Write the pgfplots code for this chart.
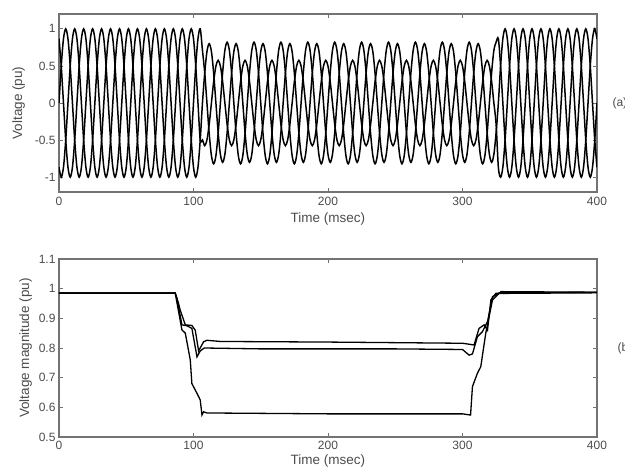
\documentclass[border=0pt]{standalone}
\usepackage{fontspec}
\setmainfont{Liberation Sans}
\usepackage{pgfplots}
\usepackage{pgfplotstable}
\pgfplotsset{compat=1.18}
\pgfplotstableread{
t a b c
0 0 -0.866 0.866
1.667 0.5 -1 0.5
3.333 0.866 -0.866 0
5 1 -0.5 -0.5
6.667 0.866 0 -0.866
8.333 0.5 0.5 -1
10 0 0.866 -0.866
11.667 -0.5 1 -0.5
13.333 -0.866 0.866 0
15 -1 0.5 0.5
16.667 -0.866 0 0.866
18.333 -0.5 -0.5 1
20 0 -0.866 0.866
21.667 0.5 -1 0.5
23.333 0.866 -0.866 0
25 1 -0.5 -0.5
26.667 0.866 0 -0.866
28.333 0.5 0.5 -1
30 0 0.866 -0.866
31.667 -0.5 1 -0.5
33.333 -0.866 0.866 0
35 -1 0.5 0.5
36.667 -0.866 0 0.866
38.333 -0.5 -0.5 1
40 0 -0.866 0.866
41.667 0.5 -1 0.5
43.333 0.866 -0.866 0
45 1 -0.5 -0.5
46.667 0.866 0 -0.866
48.333 0.5 0.5 -1
50 0 0.866 -0.866
51.667 -0.5 1 -0.5
53.333 -0.866 0.866 0
55 -1 0.5 0.5
56.667 -0.866 0 0.866
58.333 -0.5 -0.5 1
60 0 -0.866 0.866
61.667 0.5 -1 0.5
63.333 0.866 -0.866 0
65 1 -0.5 -0.5
66.667 0.866 0 -0.866
68.333 0.5 0.5 -1
70 0 0.866 -0.866
71.667 -0.5 1 -0.5
73.333 -0.866 0.866 0
75 -1 0.5 0.5
76.667 -0.866 0 0.866
78.333 -0.5 -0.5 1
80 0 -0.866 0.866
81.667 0.5 -1 0.5
83.333 0.866 -0.866 0
85 1 -0.5 -0.5
86.667 0.866 0 -0.866
88.333 0.5 0.5 -1
90 0 0.866 -0.866
91.667 -0.5 1 -0.5
93.333 -0.866 0.866 0
95 -1 0.5 0.5
96.667 -0.866 0 0.866
98.333 -0.5 -0.5 1
100 0 -0.866 0.866
101.667 0.5 -1 0.5
103.333 0.866 -0.866 0
105 1 -0.5 -0.5
106.667 0.71 0 -0.498
108.333 0.41 0.4 -0.575
110 0 0.693 -0.498
111.667 -0.41 0.8 -0.288
113.333 -0.71 0.693 0
115 -0.82 0.4 0.288
116.667 -0.71 0 0.498
118.333 -0.41 -0.4 0.575
120 0 -0.693 0.498
121.667 0.41 -0.8 0.288
123.333 0.71 -0.693 0
125 0.82 -0.4 -0.288
126.667 0.71 0 -0.498
128.333 0.41 0.4 -0.575
130 0 0.693 -0.498
131.667 -0.41 0.8 -0.288
133.333 -0.71 0.693 0
135 -0.82 0.4 0.288
136.667 -0.71 0 0.498
138.333 -0.41 -0.4 0.575
140 0 -0.693 0.498
141.667 0.41 -0.8 0.288
143.333 0.71 -0.693 0
145 0.82 -0.4 -0.288
146.667 0.71 0 -0.498
148.333 0.41 0.4 -0.575
150 0 0.693 -0.498
151.667 -0.41 0.8 -0.288
153.333 -0.71 0.693 0
155 -0.82 0.4 0.288
156.667 -0.71 0 0.498
158.333 -0.41 -0.4 0.575
160 0 -0.693 0.498
161.667 0.41 -0.8 0.288
163.333 0.71 -0.693 0
165 0.82 -0.4 -0.288
166.667 0.71 0 -0.498
168.333 0.41 0.4 -0.575
170 0 0.693 -0.498
171.667 -0.41 0.8 -0.288
173.333 -0.71 0.693 0
175 -0.82 0.4 0.288
176.667 -0.71 0 0.498
178.333 -0.41 -0.4 0.575
180 0 -0.693 0.498
181.667 0.41 -0.8 0.288
183.333 0.71 -0.693 0
185 0.82 -0.4 -0.288
186.667 0.71 0 -0.498
188.333 0.41 0.4 -0.575
190 0 0.693 -0.498
191.667 -0.41 0.8 -0.288
193.333 -0.71 0.693 0
195 -0.82 0.4 0.288
196.667 -0.71 0 0.498
198.333 -0.41 -0.4 0.575
200 0 -0.693 0.498
201.667 0.41 -0.8 0.288
203.333 0.71 -0.693 0
205 0.82 -0.4 -0.288
206.667 0.71 0 -0.498
208.333 0.41 0.4 -0.575
210 0 0.693 -0.498
211.667 -0.41 0.8 -0.288
213.333 -0.71 0.693 0
215 -0.82 0.4 0.288
216.667 -0.71 0 0.498
218.333 -0.41 -0.4 0.575
220 0 -0.693 0.498
221.667 0.41 -0.8 0.288
223.333 0.71 -0.693 0
225 0.82 -0.4 -0.288
226.667 0.71 0 -0.498
228.333 0.41 0.4 -0.575
230 0 0.693 -0.498
231.667 -0.41 0.8 -0.288
233.333 -0.71 0.693 0
235 -0.82 0.4 0.288
236.667 -0.71 0 0.498
238.333 -0.41 -0.4 0.575
240 0 -0.693 0.498
241.667 0.41 -0.8 0.288
243.333 0.71 -0.693 0
245 0.82 -0.4 -0.288
246.667 0.71 0 -0.498
248.333 0.41 0.4 -0.575
250 0 0.693 -0.498
251.667 -0.41 0.8 -0.288
253.333 -0.71 0.693 0
255 -0.82 0.4 0.288
256.667 -0.71 0 0.498
258.333 -0.41 -0.4 0.575
260 0 -0.693 0.498
261.667 0.41 -0.8 0.288
263.333 0.71 -0.693 0
265 0.82 -0.4 -0.288
266.667 0.71 0 -0.498
268.333 0.41 0.4 -0.575
270 0 0.693 -0.498
271.667 -0.41 0.8 -0.288
273.333 -0.71 0.693 0
275 -0.82 0.4 0.288
276.667 -0.71 0 0.498
278.333 -0.41 -0.4 0.575
280 0 -0.693 0.498
281.667 0.41 -0.8 0.288
283.333 0.71 -0.693 0
285 0.82 -0.4 -0.288
286.667 0.71 0 -0.498
288.333 0.41 0.4 -0.575
290 0 0.693 -0.498
291.667 -0.41 0.8 -0.288
293.333 -0.71 0.693 0
295 -0.82 0.4 0.288
296.667 -0.71 0 0.498
298.333 -0.41 -0.4 0.575
300 0 -0.693 0.498
301.667 0.41 -0.8 0.288
303.333 0.71 -0.693 0
305 0.82 -0.4 -0.288
306.667 0.71 0 -0.498
308.333 0.41 0.4 -0.575
310 0 0.693 -0.498
311.667 -0.41 0.8 -0.288
313.333 -0.71 0.693 0
315 -0.82 0.4 0.288
316.667 -0.71 0 0.498
318.333 -0.41 -0.4 0.575
320 0 -0.693 0.498
321.667 0.41 -0.8 0.288
323.333 0.71 -0.693 0
325 0.82 -0.4 -0.288
326.667 0.866 0 -0.866
328.333 0.5 0.5 -1
330 0 0.866 -0.866
331.667 -0.5 1 -0.5
333.333 -0.866 0.866 0
335 -1 0.5 0.5
336.667 -0.866 0 0.866
338.333 -0.5 -0.5 1
340 0 -0.866 0.866
341.667 0.5 -1 0.5
343.333 0.866 -0.866 0
345 1 -0.5 -0.5
346.667 0.866 0 -0.866
348.333 0.5 0.5 -1
350 0 0.866 -0.866
351.667 -0.5 1 -0.5
353.333 -0.866 0.866 0
355 -1 0.5 0.5
356.667 -0.866 0 0.866
358.333 -0.5 -0.5 1
360 0 -0.866 0.866
361.667 0.5 -1 0.5
363.333 0.866 -0.866 0
365 1 -0.5 -0.5
366.667 0.866 0 -0.866
368.333 0.5 0.5 -1
370 0 0.866 -0.866
371.667 -0.5 1 -0.5
373.333 -0.866 0.866 0
375 -1 0.5 0.5
376.667 -0.866 0 0.866
378.333 -0.5 -0.5 1
380 0 -0.866 0.866
381.667 0.5 -1 0.5
383.333 0.866 -0.866 0
385 1 -0.5 -0.5
386.667 0.866 0 -0.866
388.333 0.5 0.5 -1
390 0 0.866 -0.866
391.667 -0.5 1 -0.5
393.333 -0.866 0.866 0
395 -1 0.5 0.5
396.667 -0.866 0 0.866
398.333 -0.5 -0.5 1
400 0 -0.866 0.866
}\wave
\pgfplotsset{
  mystyle/.style={
    width=538pt, height=178pt, scale only axis,
    xmin=0, xmax=400, xtick={0,100,200,300,400},
    tick align=inside, major tick length=4pt,
    axis line style={black!55, line width=1.1pt},
    every tick/.style={black!55, line width=0.7pt},
    tick label style={font=\fontsize{12}{14}\selectfont, text=black!70},
    label style={font=\fontsize{13.5}{15}\selectfont, text=black!70},
    xticklabel style={yshift=-2pt},
    xlabel style={yshift=0pt},
    /pgf/number format/assume math mode=true,
    xlabel={Time (msec)},
  }
}
\begin{document}
\begin{tikzpicture}
\useasboundingbox (-59pt,-34pt) rectangle (566pt,437pt);
\begin{axis}[mystyle, name=top, at={(0pt,245pt)}, anchor=south west,
  ymin=-1.2, ymax=1.2, ytick={-1,-0.5,0,0.5,1},
  ylabel={Voltage (pu)}, ylabel style={yshift=3pt}]
\addplot[black, line width=1.5pt, smooth, tension=0.5] table[x=t, y=a] {\wave};
\addplot[black, line width=1.5pt, smooth, tension=0.5] table[x=t, y=b] {\wave};
\addplot[black, line width=1.5pt, smooth, tension=0.5] table[x=t, y=c] {\wave};
\end{axis}
\begin{axis}[mystyle, name=bot, at={(0pt,0pt)}, anchor=south west,
  ymin=0.5, ymax=1.1, ytick={0.5,0.6,0.7,0.8,0.9,1,1.1},
  ylabel={Voltage magnitude (pu)}, xticklabel style={yshift=1pt}, xlabel style={yshift=2pt}]
\addplot[black, line width=1.3pt] coordinates {(0,0.985) (86.4,0.985) (88.9,0.95) (90.1,0.928) (93.9,0.878) (98.8,0.876) (101.3,0.86) (103.8,0.79) (107.5,0.821) (110,0.826) (120,0.822) (200,0.82) (250,0.818) (300,0.816) (306,0.812) (308.6,0.81) (312.3,0.866) (316.1,0.878) (318.6,0.86) (321.1,0.962) (324.8,0.984) (328.5,0.986) (400,0.988)};
\addplot[black, line width=1.3pt] coordinates {(0,0.985) (86.4,0.985) (87.7,0.968) (91.4,0.878) (95.1,0.875) (98.8,0.866) (102.6,0.77) (105,0.79) (108,0.80) (150,0.797) (250,0.797) (300,0.795) (304.9,0.776) (307.4,0.78) (311.1,0.838) (314.8,0.855) (318.6,0.889) (322.3,0.973) (327.2,0.984) (400,0.986)};
\addplot[black, line width=1.3pt] coordinates {(0,0.985) (86.4,0.985) (91.4,0.861) (93.9,0.85) (97.6,0.76) (98.8,0.68) (102.6,0.647) (105,0.625) (106.3,0.574) (107.5,0.585) (110,0.581) (200,0.578) (300,0.578) (306,0.574) (307.4,0.67) (311.1,0.715) (313.6,0.737) (317.3,0.85) (322.3,0.962) (328.5,0.99) (400,0.988)};
\end{axis}
\node[anchor=west, font=\fontsize{12}{14}\selectfont, text=black!70] at ([xshift=12pt]top.east) {(a)};
\node[anchor=west, font=\fontsize{12}{14}\selectfont, text=black!70] at ([xshift=17pt]bot.east) {(b)};
\end{tikzpicture}
\end{document}
